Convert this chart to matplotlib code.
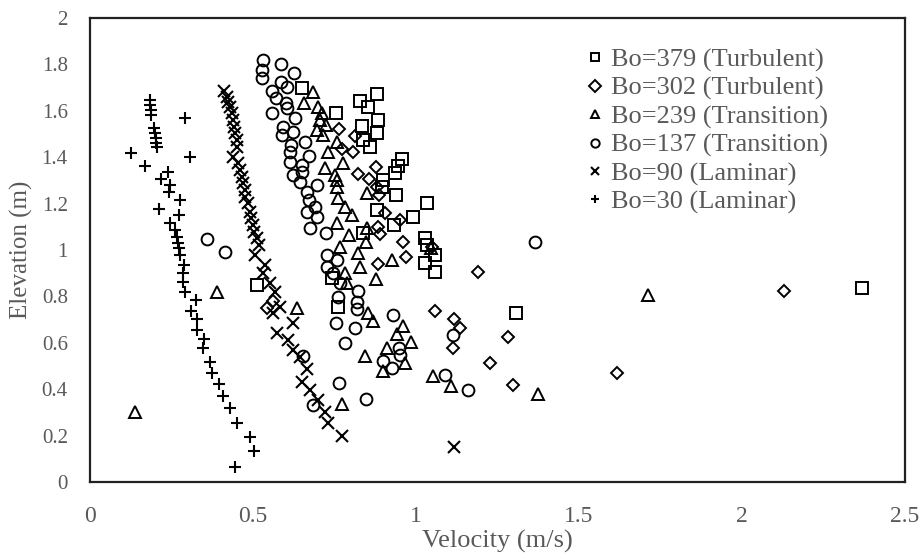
import matplotlib.pyplot as plt
from matplotlib.ticker import FuncFormatter

# Bo=379 (Turbulent)
vel_379 = [0.65, 0.755, 0.828, 0.853, 0.880, 0.883, 0.834, 0.880, 0.837, 0.859, 0.957, 0.945,
           0.936, 0.899, 0.896, 0.939, 1.034, 0.880, 0.991, 0.932, 0.837, 1.028, 1.034, 1.058,
           1.028, 1.058, 0.742, 0.761, 0.512, 1.307, 2.368]
elev_379 = [1.698, 1.59, 1.642, 1.616, 1.672, 1.56, 1.534, 1.504, 1.474, 1.444, 1.392, 1.362,
            1.332, 1.302, 1.272, 1.237, 1.203, 1.172, 1.142, 1.108, 1.073, 1.052, 1.022, 0.978,
            0.944, 0.905, 0.879, 0.754, 0.849, 0.728, 0.836]

# Bo=302 (Turbulent)
vel_302 = [0.764, 0.813, 0.773, 0.807, 0.877, 0.822, 0.856, 0.880, 0.887, 0.905, 0.951, 0.883,
           0.890, 0.960, 1.049, 0.969, 0.883, 1.19, 1.058, 1.117, 1.135, 1.113, 1.282, 1.227,
           1.298, 1.617, 2.129, 0.543, 0.56]
elev_302 = [1.522, 1.491, 1.435, 1.422, 1.358, 1.328, 1.306, 1.272, 1.237, 1.159, 1.129, 1.099,
            1.069, 1.034, 1.013, 0.970, 0.94, 0.905, 0.737, 0.703, 0.664, 0.578, 0.625, 0.513,
            0.418, 0.47, 0.823, 0.75, 0.78]

# Bo=239 (Transition)
vel_239 = [0.684, 0.656, 0.699, 0.712, 0.706, 0.724, 0.696, 0.715, 0.758, 0.730, 0.776, 0.721,
           0.752, 0.758, 0.758, 0.850, 0.761, 0.782, 0.804, 0.758, 0.794, 0.850, 0.847, 0.767,
           1.045, 0.822, 0.828, 0.782, 0.877, 0.926, 0.788, 0.635, 0.853, 0.868, 0.960, 0.942,
           0.985, 0.911, 0.844, 0.966, 0.899, 1.052, 1.107, 0.773, 0.39, 0.138, 1.374, 1.712]
elev_239 = [1.681, 1.634, 1.616, 1.59, 1.56, 1.539, 1.517, 1.496, 1.466, 1.422, 1.375, 1.353,
            1.323, 1.302, 1.272, 1.246, 1.224, 1.185, 1.151, 1.116, 1.065, 1.095, 1.034, 1.013,
            1.01, 0.987, 0.927, 0.90, 0.875, 0.957, 0.858, 0.75, 0.728, 0.694, 0.672, 0.638,
            0.603, 0.578, 0.543, 0.513, 0.478, 0.457, 0.414, 0.336, 0.819, 0.302, 0.379, 0.806]

# Bo=137 (Transition)
vel_137 = [0.531, 0.528, 0.528, 0.586, 0.626, 0.586, 0.604, 0.558, 0.571, 0.601, 0.558, 0.604,
           0.629, 0.592, 0.589, 0.623, 0.66, 0.617, 0.613, 0.672, 0.613, 0.650, 0.623, 0.650,
           0.644, 0.696, 0.666, 0.672, 0.69, 0.666, 0.696, 0.675, 0.724, 0.359, 0.414,
           0.727, 0.758, 0.727, 0.745, 0.767, 0.822, 0.761, 0.819, 0.819, 0.929, 0.755, 0.813,
           0.782, 0.948, 0.951, 0.899, 0.926, 0.764, 1.089, 1.113, 0.847, 0.684, 0.653,
           1.16, 1.365]
elev_137 = [1.819, 1.776, 1.741, 1.802, 1.763, 1.724, 1.703, 1.685, 1.655, 1.634, 1.59, 1.612,
            1.569, 1.53, 1.496, 1.509, 1.466, 1.453, 1.422, 1.405, 1.379, 1.366, 1.323, 1.336,
            1.293, 1.28, 1.25, 1.216, 1.185, 1.164, 1.142, 1.095, 1.073, 1.047, 0.991,
            0.978, 0.957, 0.927, 0.90, 0.858, 0.823, 0.797, 0.776, 0.746, 0.72, 0.685, 0.664,
            0.599, 0.578, 0.547, 0.522, 0.491, 0.427, 0.461, 0.634, 0.358, 0.332, 0.543,
            0.397, 1.034]

# Bo=90 (Laminar)
vel_90 = [0.411, 0.42, 0.423, 0.429, 0.435, 0.439, 0.442, 0.445, 0.451, 0.451, 0.439, 0.454,
          0.46, 0.466, 0.469, 0.475, 0.475, 0.485, 0.491, 0.494, 0.5, 0.503, 0.512, 0.518,
          0.506, 0.537, 0.531, 0.552, 0.567, 0.583, 0.561, 0.623, 0.574, 0.607, 0.623, 0.644,
          0.666, 0.650, 0.675, 0.699, 0.721, 0.730, 0.773, 1.117]
elev_90 = [1.686, 1.66, 1.638, 1.616, 1.59, 1.56, 1.53, 1.504, 1.474, 1.444, 1.40, 1.375,
           1.345, 1.315, 1.289, 1.259, 1.228, 1.203, 1.164, 1.138, 1.108, 1.078, 1.052, 1.022,
           0.978, 0.935, 0.90, 0.858, 0.819, 0.754, 0.728, 0.685, 0.642, 0.612, 0.569, 0.539,
           0.487, 0.431, 0.397, 0.353, 0.302, 0.254, 0.198, 0.151]

# Bo=30 (Laminar)
vel_30 = [0.184, 0.184, 0.187, 0.187, 0.291, 0.196, 0.199, 0.201, 0.204, 0.206, 0.125, 0.307,
          0.169, 0.239, 0.218, 0.245, 0.242, 0.276, 0.212, 0.273, 0.245, 0.261, 0.267, 0.27,
          0.273, 0.276, 0.288, 0.285, 0.285, 0.291, 0.325, 0.31, 0.328, 0.328, 0.35, 0.347,
          0.368, 0.374, 0.396, 0.408, 0.429, 0.451, 0.491, 0.503, 0.445]
elev_30 = [1.647, 1.625, 1.603, 1.58, 1.569, 1.526, 1.504, 1.483, 1.461, 1.444, 1.418, 1.40,
           1.362, 1.336, 1.306, 1.28, 1.25, 1.216, 1.177, 1.151, 1.117, 1.086, 1.056, 1.03,
           1.008, 0.978, 0.935, 0.90, 0.862, 0.819, 0.784, 0.737, 0.703, 0.655, 0.616, 0.578,
           0.517, 0.47, 0.422, 0.371, 0.319, 0.254, 0.194, 0.134, 0.065]

plt.rcParams['font.family'] = ['Liberation Serif', 'DejaVu Serif']
grey = '#595959'

fig = plt.figure(figsize=(9.22, 5.59), dpi=100)
ax = fig.add_axes([0.0976, 0.1377, 0.8840, 0.8301])

style = dict(linestyle='none', markerfacecolor='none', markeredgecolor='black', color='black')
ax.plot(vel_379, elev_379, marker='s', markersize=8, markeredgewidth=1.4,
        label='Bo=379 (Turbulent)', **style)
ax.plot(vel_302, elev_302, marker='D', markersize=6.5, markeredgewidth=1.4,
        label='Bo=302 (Turbulent)', **style)
ax.plot(vel_239, elev_239, marker='^', markersize=8.5, markeredgewidth=1.4,
        label='Bo=239 (Transition)', **style)
ax.plot(vel_137, elev_137, marker='o', markersize=8.5, markeredgewidth=1.4,
        label='Bo=137 (Transition)', **style)
ax.plot(vel_90, elev_90, marker='x', markersize=8, markeredgewidth=1.5,
        label='Bo=90 (Laminar)', **style)
ax.plot(vel_30, elev_30, marker='+', markersize=8, markeredgewidth=1.5,
        label='Bo=30 (Laminar)', **style)

ax.set_xlim(0, 2.5)
ax.set_ylim(0, 2)
ax.set_xticks([0, 0.5, 1, 1.5, 2, 2.5])
ax.set_yticks([0, 0.2, 0.4, 0.6, 0.8, 1, 1.2, 1.4, 1.6, 1.8, 2])
fmt = FuncFormatter(lambda v, p: f"{v:g}")
ax.xaxis.set_major_formatter(fmt)
ax.yaxis.set_major_formatter(fmt)
ax.tick_params(length=0, labelcolor=grey)
ax.tick_params(axis='x', labelsize=17, pad=17)
ax.tick_params(axis='y', labelsize=15, pad=16)

for sp in ax.spines.values():
    sp.set_linewidth(1.6)
    sp.set_color('#222222')

ax.set_xlabel('Velocity (m/s)', fontsize=19, color=grey, labelpad=2)
ax.set_ylabel('Elevation (m)', fontsize=18, color=grey, labelpad=6)

leg = ax.legend(loc='upper left', bbox_to_anchor=(0.607, 0.935), frameon=False,
                fontsize=19, handletextpad=0.2, handlelength=0.8, labelspacing=0.17,
                borderpad=0, borderaxespad=0)
for t in leg.get_texts():
    t.set_color(grey)
for h in leg.legend_handles:
    h.set_markersize(6)

fig.savefig('out.png', dpi=100)
